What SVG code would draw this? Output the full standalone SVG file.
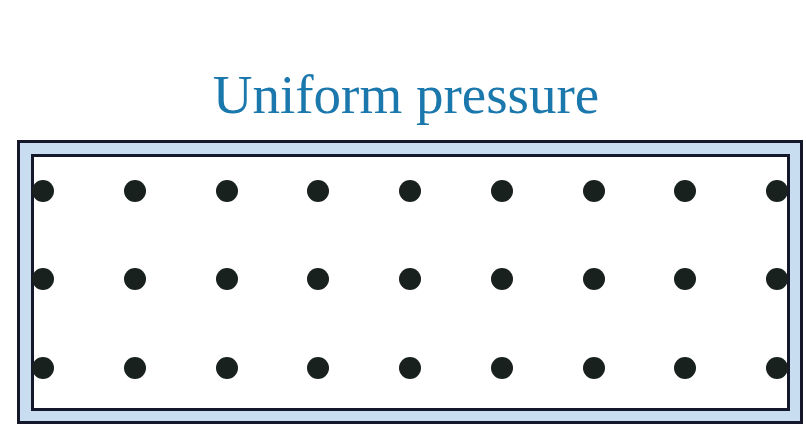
<svg xmlns="http://www.w3.org/2000/svg" width="806" height="425" viewBox="0 0 806 425">
<style>
.title{font-family:"Liberation Serif","Times New Roman",serif;font-size:55px;fill:#1b78ad}
.dot{fill:#18211e}
.frame{fill:#c8def0;stroke:#15182a;stroke-width:3}
.inner{fill:#ffffff;stroke:#15182a;stroke-width:3}
</style>
<rect width="806" height="425" fill="#ffffff"/>
<text class="title" x="406" y="113" text-anchor="middle">Uniform pressure</text>
<g id="frame">
<rect class="frame" x="18.5" y="141.5" width="783" height="281"/>
<rect class="inner" x="32.5" y="155.5" width="756" height="254"/>
</g>
<g id="dots">
<g id="row1">
<circle class="dot" cx="43" cy="191" r="11"/><circle class="dot" cx="135" cy="191" r="11"/><circle class="dot" cx="227" cy="191" r="11"/><circle class="dot" cx="318" cy="191" r="11"/><circle class="dot" cx="410" cy="191" r="11"/><circle class="dot" cx="502" cy="191" r="11"/><circle class="dot" cx="594" cy="191" r="11"/><circle class="dot" cx="685" cy="191" r="11"/><circle class="dot" cx="777" cy="191" r="11"/>
</g>
<g id="row2">
<circle class="dot" cx="43" cy="279" r="11"/><circle class="dot" cx="135" cy="279" r="11"/><circle class="dot" cx="227" cy="279" r="11"/><circle class="dot" cx="318" cy="279" r="11"/><circle class="dot" cx="410" cy="279" r="11"/><circle class="dot" cx="502" cy="279" r="11"/><circle class="dot" cx="594" cy="279" r="11"/><circle class="dot" cx="685" cy="279" r="11"/><circle class="dot" cx="777" cy="279" r="11"/>
</g>
<g id="row3">
<circle class="dot" cx="43" cy="368" r="11"/><circle class="dot" cx="135" cy="368" r="11"/><circle class="dot" cx="227" cy="368" r="11"/><circle class="dot" cx="318" cy="368" r="11"/><circle class="dot" cx="410" cy="368" r="11"/><circle class="dot" cx="502" cy="368" r="11"/><circle class="dot" cx="594" cy="368" r="11"/><circle class="dot" cx="685" cy="368" r="11"/><circle class="dot" cx="777" cy="368" r="11"/>
</g>
</g>
</svg>
